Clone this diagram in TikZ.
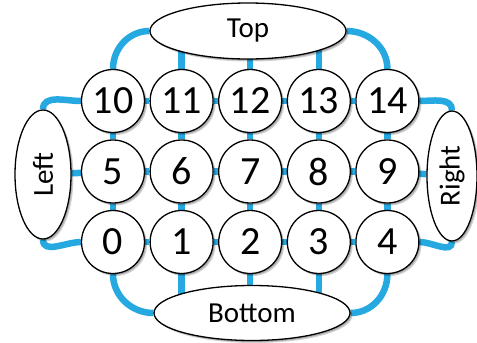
\documentclass[tikz,border=0pt]{standalone}
\usepackage{fontspec}
\setmainfont{Carlito}
\usetikzlibrary{shapes.geometric,shadows,backgrounds}
\definecolor{linkblue}{RGB}{38,168,224}
\tikzset{
  softshadow/.style={drop shadow={shadow xshift=2.5pt,shadow yshift=-2.5pt,fill=black,opacity=0.18},
                     drop shadow={shadow xshift=1.5pt,shadow yshift=-1.5pt,fill=black,opacity=0.18}},
  cell/.style={circle,draw=black,line width=1.3pt,fill=white,minimum size=63pt,inner sep=0pt,
               font=\fontsize{40}{40}\selectfont,softshadow},
  side/.style={ellipse,draw=black,line width=1.3pt,fill=white,inner sep=0pt,
               font=\fontsize{29}{29}\selectfont,softshadow},
  link/.style={draw=linkblue,line width=6.5pt}
}
\begin{document}
\begin{tikzpicture}[x=1pt,y=-1pt]
\useasboundingbox (0,0) rectangle (477,343);
% grid
\foreach \r/\yy in {0/242,1/171.5,2/101}{
  \foreach \c in {0,...,4}{
    \pgfmathtruncatemacro{\n}{\r*5+\c}
    \node[cell] (n\n) at ({113+68.6*\c},\yy) {\n};
  }
}
\node[side,minimum width=196pt,minimum height=56pt] (top) at (248,31) {Top};
\node[side,minimum width=196pt,minimum height=55pt] (bottom) at (252,313) {Bottom};
\node[side,minimum width=129pt,minimum height=56pt,rotate=90] (left) at (43,174.5) {Left};
\node[side,minimum width=130pt,minimum height=50pt,rotate=90] (right) at (452,176) {Right};
\begin{scope}[on background layer]
  % horizontal
  \foreach \r in {0,5,10}{
    \foreach \c in {0,...,3}{
      \pgfmathtruncatemacro{\a}{\r+\c}
      \pgfmathtruncatemacro{\b}{\r+\c+1}
      \draw[link] (n\a) -- (n\b);
    }
  }
  % vertical
  \foreach \a in {0,...,9}{
    \pgfmathtruncatemacro{\b}{\a+5}
    \draw[link] (n\a) -- (n\b);
  }
  \foreach \k in {1,2,3}{
    \draw[link] (n\k.south) -- (n\k.south |- bottom.center);
  }
  \foreach \k in {11,12,13}{
    \draw[link] (n\k.north) -- (n\k.north |- top.center);
  }
  \draw[link] (left) -- (n5);
  \draw[link] (right) -- (n9);
  \draw[link] (top.west) to[out=180,in=90] (n10.north);
  \draw[link] (top.east) to[out=0,in=90] (n14.north);
  \draw[link] (bottom.west) to[out=180,in=-90] (n0.south);
  \draw[link] (bottom.east) to[out=0,in=-90] (n4.south);
  \draw[link] (left.east) to[out=90,in=180] (n10.west);
  \draw[link] (left.west) to[out=-90,in=180] (n0.west);
  \draw[link] (right.east) to[out=90,in=0] (n14.east);
  \draw[link] (right.west) to[out=-90,in=0] (n4.east);
\end{scope}
\end{tikzpicture}
\end{document}
